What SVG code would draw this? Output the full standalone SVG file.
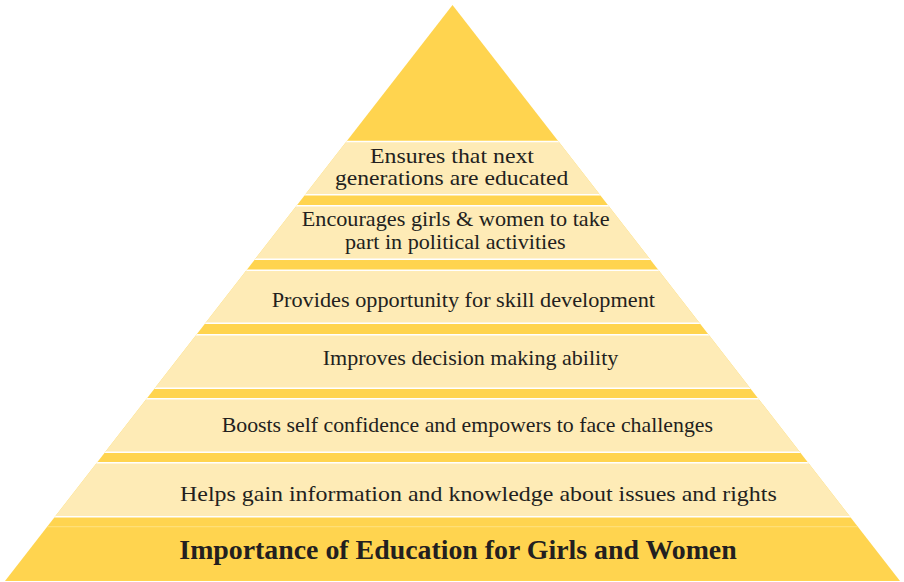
<svg xmlns="http://www.w3.org/2000/svg" width="904" height="582" viewBox="0 0 904 582">
  <defs>
    <clipPath id="tri">
      <polygon points="452.5,5 5,581 900,581"/>
    </clipPath>
    <style>
      .yellow { fill: #FFD44F; }
      .light { fill: #FEEBB6; }
      .sep { stroke: #FFFFFF; stroke-width: 1.6; }
      .faint { stroke: #FFE27F; stroke-width: 1; }
      .lbl { font-family: "Liberation Serif", "Times New Roman", serif; font-size: 21.5px; fill: #231F20; }
      .lbl2 { font-family: "Liberation Serif", "Times New Roman", serif; font-size: 20.2px; fill: #231F20; }
      .title { font-family: "Liberation Serif", "Times New Roman", serif; font-size: 27.7px; font-weight: bold; fill: #231F20; }
    </style>
  </defs>
  <rect x="0" y="0" width="904" height="582" fill="#FFFFFF"/>

  <g id="pyramid" clip-path="url(#tri)">
    <rect class="yellow" x="0" y="0" width="904" height="582"/>
    <rect class="light" x="0" y="141.5" width="904" height="53"/>
    <rect class="light" x="0" y="206" width="904" height="53"/>
    <rect class="light" x="0" y="270.5" width="904" height="52.5"/>
    <rect class="light" x="0" y="335" width="904" height="53"/>
    <rect class="light" x="0" y="399" width="904" height="53"/>
    <rect class="light" x="0" y="463" width="904" height="53.5"/>
    <g id="separators">
      <line class="sep" x1="0" y1="141.5" x2="904" y2="141.5"/>
      <line class="sep" x1="0" y1="194.8" x2="904" y2="194.8"/>
      <line class="sep" x1="0" y1="205.8" x2="904" y2="205.8"/>
      <line class="sep" x1="0" y1="259.2" x2="904" y2="259.2"/>
      <line class="sep" x1="0" y1="270.3" x2="904" y2="270.3"/>
      <line class="sep" x1="0" y1="323.3" x2="904" y2="323.3"/>
      <line class="sep" x1="0" y1="334.8" x2="904" y2="334.8"/>
      <line class="sep" x1="0" y1="388.3" x2="904" y2="388.3"/>
      <line class="sep" x1="0" y1="398.8" x2="904" y2="398.8"/>
      <line class="sep" x1="0" y1="452.3" x2="904" y2="452.3"/>
      <line class="sep" x1="0" y1="462.8" x2="904" y2="462.8"/>
      <line class="sep" x1="0" y1="516.7" x2="904" y2="516.7"/>
      <line class="faint" x1="0" y1="526.7" x2="904" y2="526.7"/>
    </g>
  </g>

  <g id="level1">
    <text class="lbl2" x="370" y="162.6" textLength="164" lengthAdjust="spacingAndGlyphs">Ensures that next</text>
    <text class="lbl2" x="335" y="184.8" textLength="233.3" lengthAdjust="spacingAndGlyphs">generations are educated</text>
  </g>
  <g id="level2">
    <text class="lbl2" x="301.7" y="226" textLength="308" lengthAdjust="spacingAndGlyphs">Encourages girls &amp; women to take</text>
    <text class="lbl2" x="345" y="248.6" textLength="220.7" lengthAdjust="spacingAndGlyphs">part in political activities</text>
  </g>
  <g id="level3">
    <text class="lbl" x="271.7" y="306.7" textLength="383.3" lengthAdjust="spacingAndGlyphs">Provides opportunity for skill development</text>
  </g>
  <g id="level4">
    <text class="lbl" x="322.7" y="365" textLength="295.6" lengthAdjust="spacingAndGlyphs">Improves decision making ability</text>
  </g>
  <g id="level5">
    <text class="lbl" x="221.7" y="431.7" textLength="491.3" lengthAdjust="spacingAndGlyphs">Boosts self confidence and empowers to face challenges</text>
  </g>
  <g id="level6">
    <text class="lbl" x="180" y="500.5" textLength="596.7" lengthAdjust="spacingAndGlyphs">Helps gain information and knowledge about issues and rights</text>
  </g>
  <g id="base">
    <text class="title" x="179.3" y="559" textLength="557.4" lengthAdjust="spacingAndGlyphs">Importance of Education for Girls and Women</text>
  </g>
</svg>
